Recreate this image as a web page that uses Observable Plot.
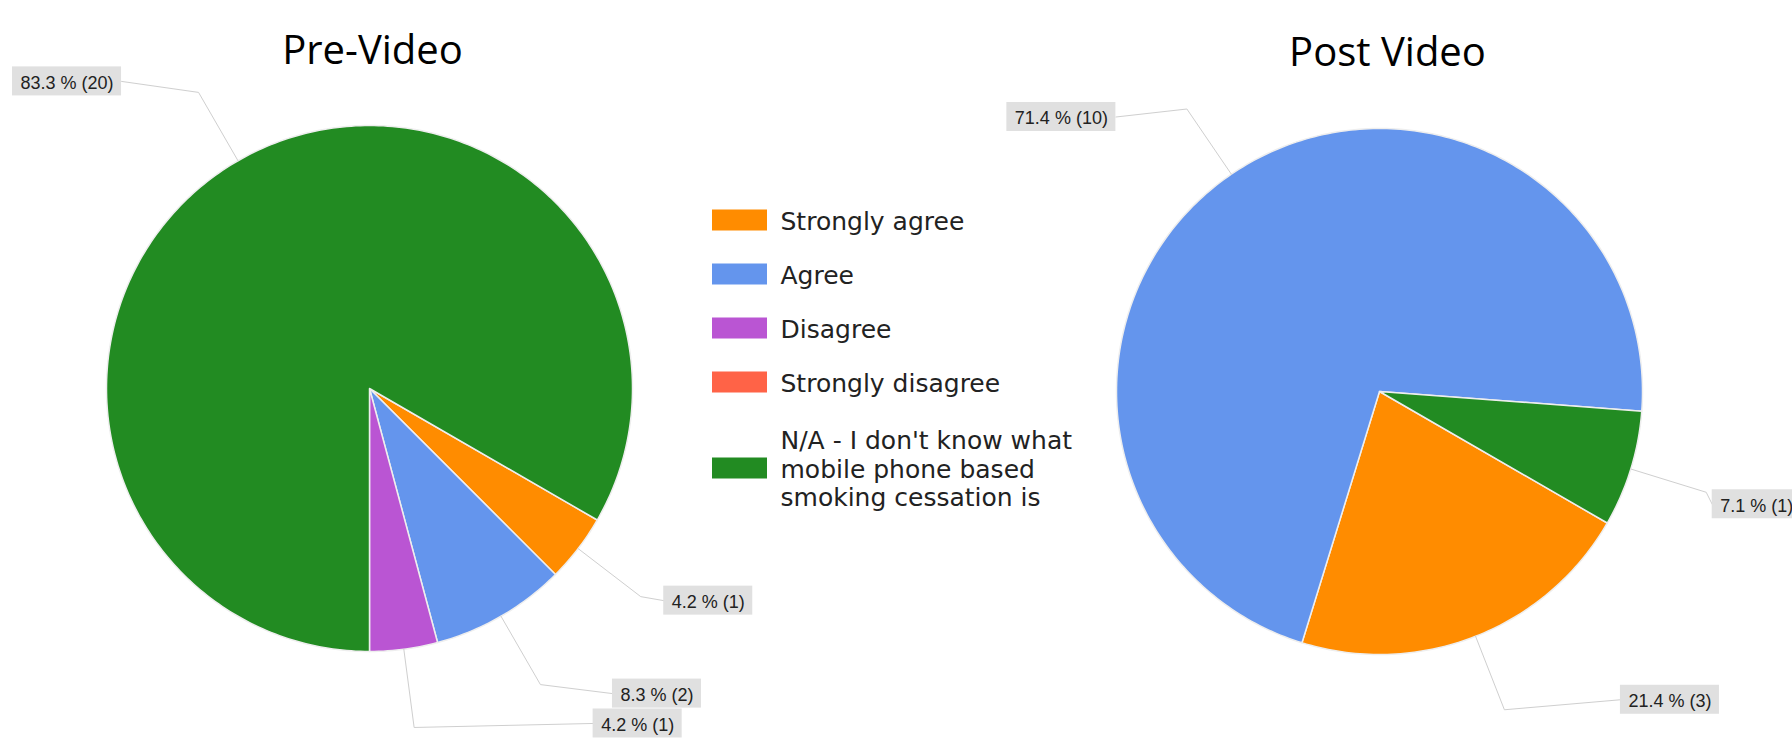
<!DOCTYPE html>
<html>
<head>
<meta charset="utf-8">
<script src="https://cdn.jsdelivr.net/npm/d3@7"></script>
<script src="https://cdn.jsdelivr.net/npm/@observablehq/plot@0.6"></script>
<style>
  html, body { margin: 0; padding: 0; background: #ffffff; }
  #chart svg { display: block; }
</style>
</head>
<body>
<div id="chart"></div>
<script>
// ---------- data ----------
const categories = ["Strongly agree", "Agree", "Disagree", "Strongly disagree", "N/A"];
const legendLabels = [
  "Strongly agree",
  "Agree",
  "Disagree",
  "Strongly disagree",
  "N/A - I don't know what\nmobile phone based\nsmoking cessation is"
];
const colors = ["#ff8c00", "#6495ed", "#ba55d3", "#ff6347", "#228b22"];
const chartTitles = ["Pre-Video", "Post Video"];
const preCounts = [1, 2, 1, 0, 20];
const postCounts = [3, 10, 0, 0, 1];

// ---------- layout (pixels) ----------
const W = 1792, H = 738;
const R = 263;
const START_DEG = 120;           // first slice starts here, clockwise from 12 o'clock
const pies = [
  {title: chartTitles[0], counts: preCounts, cx: 369, cy: 388, titleX: 372, titleY: 63,
   offsets: {"Strongly agree": [23, 4], "Agree": [72, 9], "Disagree": [179, -4], "N/A": [-77, -11]}},
  {title: chartTitles[1], counts: postCounts, cx: 1379, cy: 391, titleX: 1387, titleY: 65,
   offsets: {"Agree": [-71, 8], "Strongly agree": [116, -10], "N/A": [6, 12]}}
];
const LABEL_FONT = 18, BOX_H = 29, BOX_PAD = 8;
const LABEL_FAMILY = '"Liberation Sans", Arial, sans-serif';
const LEGEND_FAMILY = '"DejaVu Sans", Verdana, sans-serif';

const ctx = document.createElement("canvas").getContext("2d");
ctx.font = `${LABEL_FONT}px ${LABEL_FAMILY}`;

const rad = d => d * Math.PI / 180;
const px = (cx, r, a) => cx + r * Math.sin(rad(a));
const py = (cy, r, a) => cy - r * Math.cos(rad(a));

const slicePts = [], leaders = [], boxes = [], titles = [];
pies.forEach((p, pi) => {
  const total = d3.sum(p.counts);
  let acc = 0;
  titles.push({text: p.title, x: p.titleX, y: p.titleY});
  p.counts.forEach((c, i) => {
    const a0 = START_DEG + acc / total * 360;
    acc += c;
    const a1 = START_DEG + acc / total * 360;
    if (c <= 0) return;
    const key = pi + "-" + i;
    const cat = categories[i];
    slicePts.push({key, cat, x: p.cx, y: p.cy});
    const n = Math.max(2, Math.ceil(a1 - a0));
    for (let k = 0; k <= n; k++) {
      const a = a0 + (a1 - a0) * k / n;
      slicePts.push({key, cat, x: px(p.cx, R, a), y: py(p.cy, R, a)});
    }
    const mid = (a0 + a1) / 2;
    const ex = px(p.cx, R, mid), ey = py(p.cy, R, mid);
    const bx = px(p.cx, R * 1.3, mid), by = py(p.cy, R * 1.3, mid);
    const [dx, dy] = p.offsets[cat];
    const ax = bx + dx, ay = by + dy;
    leaders.push({key, x: ex, y: ey}, {key, x: bx, y: by}, {key, x: ax, y: ay});
    const text = `${(c / total * 100).toFixed(1)} % (${c})`;
    const w = ctx.measureText(text).width + 2 * BOX_PAD;
    const x1 = dx < 0 ? ax - w : ax;
    boxes.push({text, x1, x2: x1 + w, y1: ay - BOX_H / 2, y2: ay + BOX_H / 2, tx: x1 + BOX_PAD, ty: ay + 1.5});
  });
});

// legend rows
const LEG_X1 = 712, LEG_X2 = 767, LEG_TEXT_X = 780, LEG_TOP = 220, LEG_STEP = 54, LEG_LINE = 16;
const legend = [];
let ly = LEG_TOP;
legendLabels.forEach((lab, i) => {
  const lines = lab.split("\n").length;
  if (i > 0) ly += LEG_STEP + (lines - 1) * LEG_LINE;
  legend.push({cat: categories[i], label: lab, y: ly});
});

const chart = Plot.plot({
  width: W, height: H,
  margin: 0,
  x: {domain: [0, W], range: [0, W], axis: null},
  y: {domain: [0, H], range: [0, H], axis: null},
  color: {domain: categories, range: colors},
  style: {background: "#ffffff"},
  marks: [
    Plot.line(slicePts, {x: "x", y: "y", z: "key", fill: "cat", stroke: "#eeeeee",
      strokeWidth: 1.5, strokeLinejoin: "round", curve: "linear-closed"}),
    Plot.line(leaders, {x: "x", y: "y", z: "key", stroke: "#cfcfcf", strokeWidth: 1}),
    Plot.rect(boxes, {x1: "x1", x2: "x2", y1: "y1", y2: "y2", fill: "#e0e0e0"}),
    Plot.text(boxes, {x: "tx", y: "ty", text: "text", textAnchor: "start",
      fontSize: LABEL_FONT, fontFamily: LABEL_FAMILY, fill: "#222222"}),
    Plot.text(titles, {x: "x", y: "y", text: "text", lineAnchor: "bottom",
      fontSize: 40, fontFamily: "Open Sans, sans-serif", fill: "#000000"}),
    Plot.rect(legend, {x1: LEG_X1, x2: LEG_X2, y1: d => d.y - 10.5, y2: d => d.y + 10.5, fill: "cat"}),
    Plot.text(legend, {x: LEG_TEXT_X, y: "y", text: "label", textAnchor: "start", lineAnchor: "middle",
      lineHeight: 1.14, fontSize: 25, fontFamily: LEGEND_FAMILY, fill: "#222222"})
  ]
});
document.getElementById("chart").appendChild(chart);
</script>
</body>
</html>
